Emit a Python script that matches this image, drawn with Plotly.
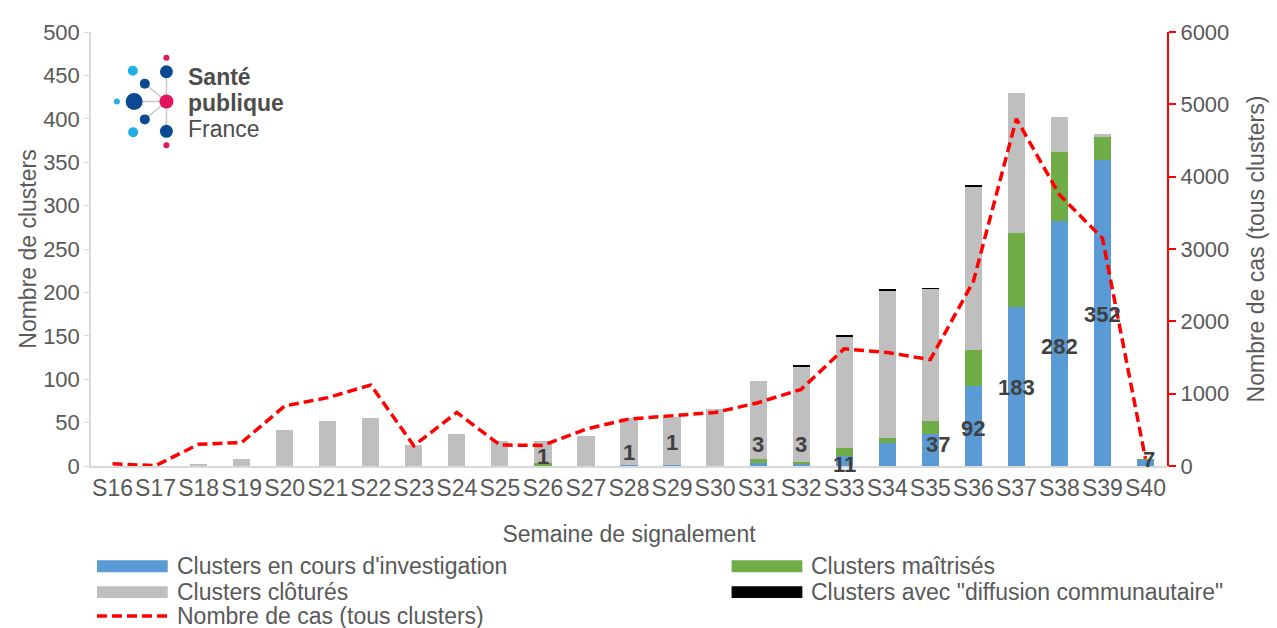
import plotly.graph_objects as go

# weekly cluster counts (left axis) and case counts (right axis)
semaines = ['S16', 'S17', 'S18', 'S19', 'S20', 'S21', 'S22', 'S23', 'S24', 'S25',
            'S26', 'S27', 'S28', 'S29', 'S30', 'S31', 'S32', 'S33', 'S34', 'S35',
            'S36', 'S37', 'S38', 'S39', 'S40']
en_cours = [0, 0, 0, 0, 0, 0, 0, 0, 0, 0, 1, 0, 1, 1, 0, 3, 3, 11, 26, 37, 92, 183, 282, 352, 7]
maitrises = [0, 0, 0, 0, 0, 0, 0, 0, 0, 0, 2, 0, 0, 0, 0, 5, 2, 10, 6, 15, 42, 85, 80, 27, 1]
clotures = [0, 0, 2, 8, 41, 52, 55, 24, 37, 29, 26, 35, 54, 56, 66, 90, 110, 128, 170, 152, 188, 162, 40, 4, 0]
diffusion = [0, 0, 0, 0, 0, 0, 0, 0, 0, 0, 0, 0, 0, 0, 0, 0, 1, 1, 1, 1, 1, 0, 0, 0, 0]
nb_cas = [30, 5, 300, 325, 830, 945, 1120, 280, 740, 290, 285, 510, 650, 690, 740, 875, 1060,
          1620, 1570, 1470, 2550, 4800, 3750, 3150, 100]

# labels shown on the chart (values of "en cours") and where Excel placed them
label_semaines = ['S26', 'S28', 'S29', 'S31', 'S32', 'S33', 'S34', 'S35', 'S36', 'S37', 'S38', 'S39', 'S40']
label_pos = [11, 15, 27, 25, 25, 2, -4, 25, 43, 90, 138, 174, 7]
label_shift = [0, 0, 0, 0, 0, 0, -3, 8, 0, 0, 0, 0, 4]

FONT = 'Liberation Sans, Arial, sans-serif'
GREY_TXT = '#595959'
BLUE, GREEN, GRIS, NOIR, ROUGE = '#5B9BD5', '#70AD47', '#BFBFBF', '#000000', '#FF0000'

# the html body has an 8px margin: figure is drawn from (8, 8) in the window
OFF = 8
L, T, W, H = 91 - OFF, 29 - OFF, 1080, 437
FIG_W, FIG_H = 1277 - OFF, 628 - OFF
R, B = FIG_W - L - W, FIG_H - T - H


def px(x, y):
    # window pixel -> paper coords
    return (x - OFF - L) / W, (T + H - (y - OFF)) / H


fig = go.Figure()
for name, vals, col in [("Clusters en cours d'investigation", en_cours, BLUE),
                        ('Clusters maîtrisés', maitrises, GREEN),
                        ('Clusters clôturés', clotures, GRIS),
                        ('Clusters avec "diffusion communautaire"', diffusion, NOIR)]:
    fig.add_trace(go.Bar(x=semaines, y=vals, name=name, marker_color=col,
                         marker_line_width=0, showlegend=False))

fig.add_trace(go.Scatter(x=semaines, y=nb_cas, name='Nombre de cas (tous clusters)', yaxis='y2',
                         mode='lines', line=dict(color=ROUGE, width=3.5, dash='10px,5px'),
                         showlegend=False))

annotations = []
for s, p, sh in zip(label_semaines, label_pos, label_shift):
    v = en_cours[semaines.index(s)]
    annotations.append(dict(x=s, y=p, xref='x', yref='y', text='<b>%d</b>' % v, showarrow=False,
                            xshift=sh, font=dict(family=FONT, size=22, color='#404040')))

# custom legend (wide swatches like Excel)
shapes = []
leg = [("Clusters en cours d'investigation", BLUE, 97, 567, 'bar'),
       ('Clusters maîtrisés', GREEN, 734, 567, 'bar'),
       ('Clusters clôturés', GRIS, 97, 593, 'bar'),
       ('Clusters avec "diffusion communautaire"', NOIR, 734, 593, 'bar'),
       ('Nombre de cas (tous clusters)', ROUGE, 97, 617, 'line')]
for txt, col, x0, yc, kind in leg:
    a = px(x0, yc - 6)
    b = px(x0 + 71, yc + 6)
    if kind == 'bar':
        shapes.append(dict(type='rect', xref='paper', yref='paper', x0=a[0], x1=b[0], y0=b[1], y1=a[1],
                           fillcolor=col, line_width=0))
    else:
        m = px(x0, yc)
        shapes.append(dict(type='line', xref='paper', yref='paper', x0=a[0], x1=b[0], y0=m[1], y1=m[1],
                           line=dict(color=col, width=3.5, dash='10px,5px')))
    t = px(x0 + 78, yc)
    annotations.append(dict(x=t[0], y=t[1], xref='paper', yref='paper', text=txt, showarrow=False,
                            xanchor='left', yanchor='middle',
                            font=dict(family=FONT, size=23, color=GREY_TXT)))

# Santé publique France logo
DB, LB, PK = '#0B4A92', '#1FB0E6', '#E3125E'
for (x1, y1, x2, y2) in [(166.7, 69, 166.7, 129), (134, 99, 166.7, 99),
                         (145, 81, 166.7, 99), (145, 117, 166.7, 99)]:
    p1, p2 = px(x1, y1), px(x2, y2)
    shapes.append(dict(type='line', xref='paper', yref='paper', x0=p1[0], y0=p1[1], x1=p2[0], y1=p2[1],
                       line=dict(color='#C8C8C8', width=1.5)))
for (cx, cy, r, col) in [(166.7, 55, 3, PK), (133, 68, 5, LB), (166.7, 69, 6.5, DB),
                         (145, 81, 5, DB), (117, 99, 3, LB), (134.3, 99, 8.5, DB),
                         (166.7, 99, 7, PK), (145, 117, 5, DB), (133.3, 130, 5, LB),
                         (166.7, 129, 6.5, DB), (166.7, 143, 3, PK)]:
    c = px(cx, cy)
    shapes.append(dict(type='circle', xref='paper', yref='paper', xsizemode='pixel', ysizemode='pixel',
                       xanchor=c[0], yanchor=c[1], x0=-r, x1=r, y0=-r, y1=r,
                       fillcolor=col, line_width=0))
for txt, yc, bold in [('Santé', 74, True), ('publique', 100, True), ('France', 127, False)]:
    p = px(186, yc)
    annotations.append(dict(x=p[0], y=p[1], xref='paper', yref='paper',
                            text='<b>%s</b>' % txt if bold else txt, showarrow=False,
                            xanchor='left', yanchor='middle',
                            font=dict(family=FONT, size=23, color='#4D4D4D')))

fig.update_layout(
    width=FIG_W, height=FIG_H,
    barmode='stack', bargap=0.6,
    plot_bgcolor='white', paper_bgcolor='white',
    margin=dict(l=L, r=R, t=T, b=B),
    font=dict(family=FONT, size=22, color=GREY_TXT),
    xaxis=dict(type='category', showline=True, linecolor='#D9D9D9', linewidth=2, ticks='',
               showgrid=False, tickfont=dict(size=23, color=GREY_TXT),
               title=dict(text='Semaine de signalement', font=dict(size=23, color=GREY_TXT), standoff=26)),
    yaxis=dict(range=[0, 500], dtick=50, showgrid=False, zeroline=False, showline=True,
               linecolor='#D9D9D9', linewidth=1.5, ticks='outside', ticklen=5, tickcolor='#D9D9D9',
               tickfont=dict(size=22, color=GREY_TXT),
               title=dict(text='Nombre de clusters', font=dict(size=23, color=GREY_TXT), standoff=0)),
    yaxis2=dict(range=[0, 6000], dtick=1000, overlaying='y', side='right', showgrid=False, zeroline=False,
                showline=True, linecolor=ROUGE, linewidth=2, ticks='outside', ticklen=7, tickwidth=2,
                tickcolor=ROUGE, tickfont=dict(size=22, color=GREY_TXT),
                title=dict(text='Nombre de cas (tous clusters)', font=dict(size=23, color=GREY_TXT),
                           standoff=20)),
    shapes=shapes,
    annotations=annotations,
)

fig.write_html("out.html")
